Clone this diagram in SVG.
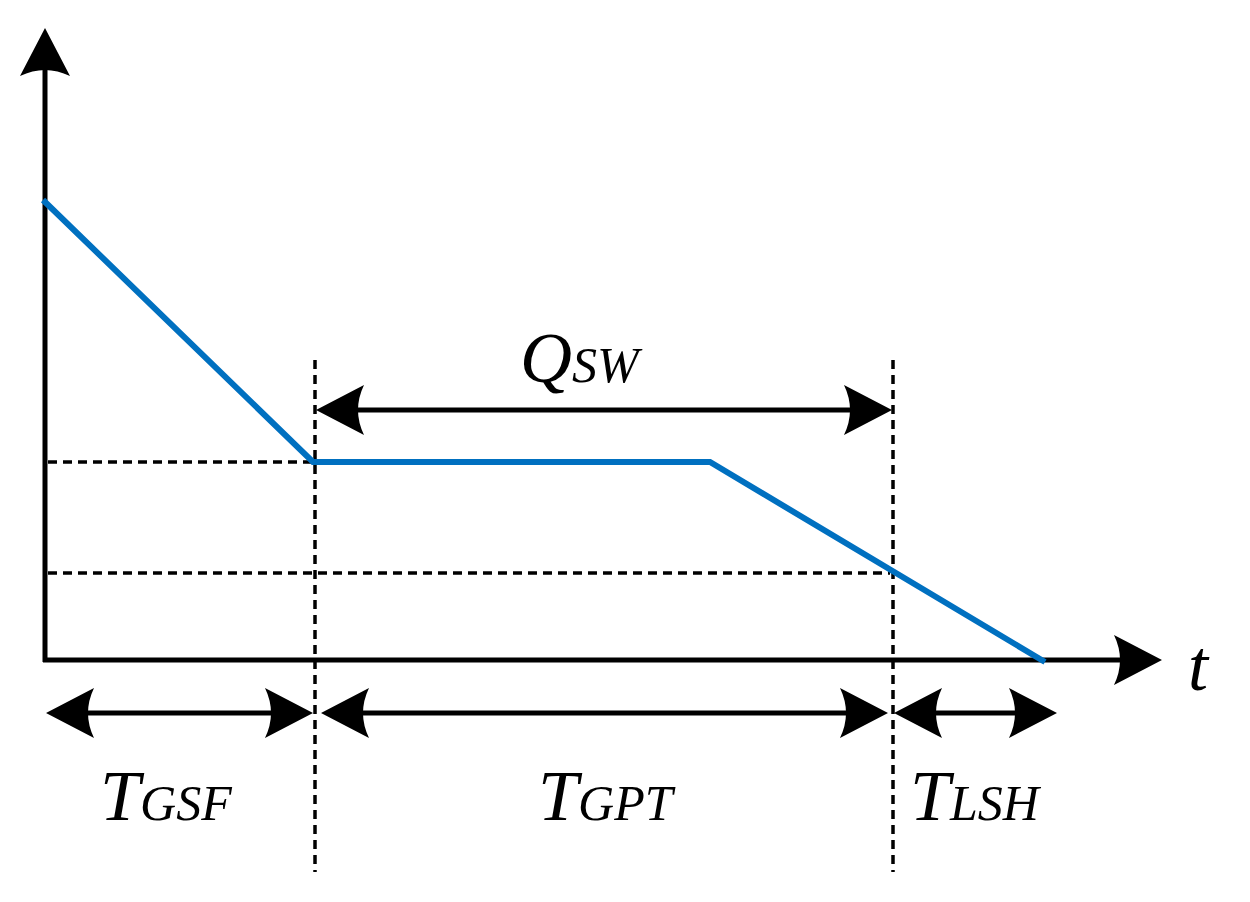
<svg xmlns="http://www.w3.org/2000/svg" width="1250" height="902" viewBox="0 0 1250 902">
<style>
.ax{stroke:#000;stroke-width:5;fill:none}
.d{stroke:#000;stroke-width:3.5;stroke-dasharray:9,6;fill:none}
.c{stroke:#0070C0;stroke-width:6;fill:none;stroke-linejoin:miter}
.t{font-family:"Liberation Serif",serif;font-style:italic;fill:#000}
.h{fill:#000}
</style>
<defs>
<path id="ah" d="M0,0 L-48,-25 Q-36,0 -48,25 Z"/>
</defs>
<rect width="1250" height="902" fill="#fff"/>
<g id="axes">
<line class="ax" x1="45" y1="662" x2="45" y2="60"/>
<line class="ax" x1="43" y1="660" x2="1130" y2="660"/>
<use href="#ah" class="h" transform="translate(45,28) rotate(-90)"/>
<use href="#ah" class="h" transform="translate(1162,660)"/>
</g>
<g id="guides">
<line class="d" x1="48" y1="462" x2="313" y2="462"/>
<line class="d" x1="48" y1="573" x2="890" y2="573"/>
<line class="d" x1="315" y1="360" x2="315" y2="872"/>
<line class="d" x1="893" y1="360" x2="893" y2="872"/>
</g>
<g id="curve">
<polyline class="c" points="43,200 313,462 710,462 1045,662"/>
</g>
<g id="connectors">
<line class="ax" x1="340" y1="410" x2="868" y2="410"/>
<use href="#ah" class="h" transform="translate(316,410) rotate(180)"/>
<use href="#ah" class="h" transform="translate(892,410)"/>
<line class="ax" x1="70" y1="713" x2="290" y2="713"/>
<use href="#ah" class="h" transform="translate(46,713) rotate(180)"/>
<use href="#ah" class="h" transform="translate(313,713)"/>
<line class="ax" x1="345" y1="713" x2="864" y2="713"/>
<use href="#ah" class="h" transform="translate(321,713) rotate(180)"/>
<use href="#ah" class="h" transform="translate(888,713)"/>
<line class="ax" x1="918" y1="713" x2="1033" y2="713"/>
<use href="#ah" class="h" transform="translate(894,713) rotate(180)"/>
<use href="#ah" class="h" transform="translate(1057,713)"/>
</g>
<g id="labels">
<text class="t" x="520" y="382" font-size="72">Q<tspan font-size="50" dy="0">SW</tspan></text>
<text class="t" x="1188" y="690" font-size="72">t</text>
<text class="t" x="100" y="820" font-size="72">T<tspan font-size="50">GSF</tspan></text>
<text class="t" x="538" y="820" font-size="72">T<tspan font-size="50">GPT</tspan></text>
<text class="t" x="910" y="820" font-size="72">T<tspan font-size="50">LSH</tspan></text>
</g>
</svg>
